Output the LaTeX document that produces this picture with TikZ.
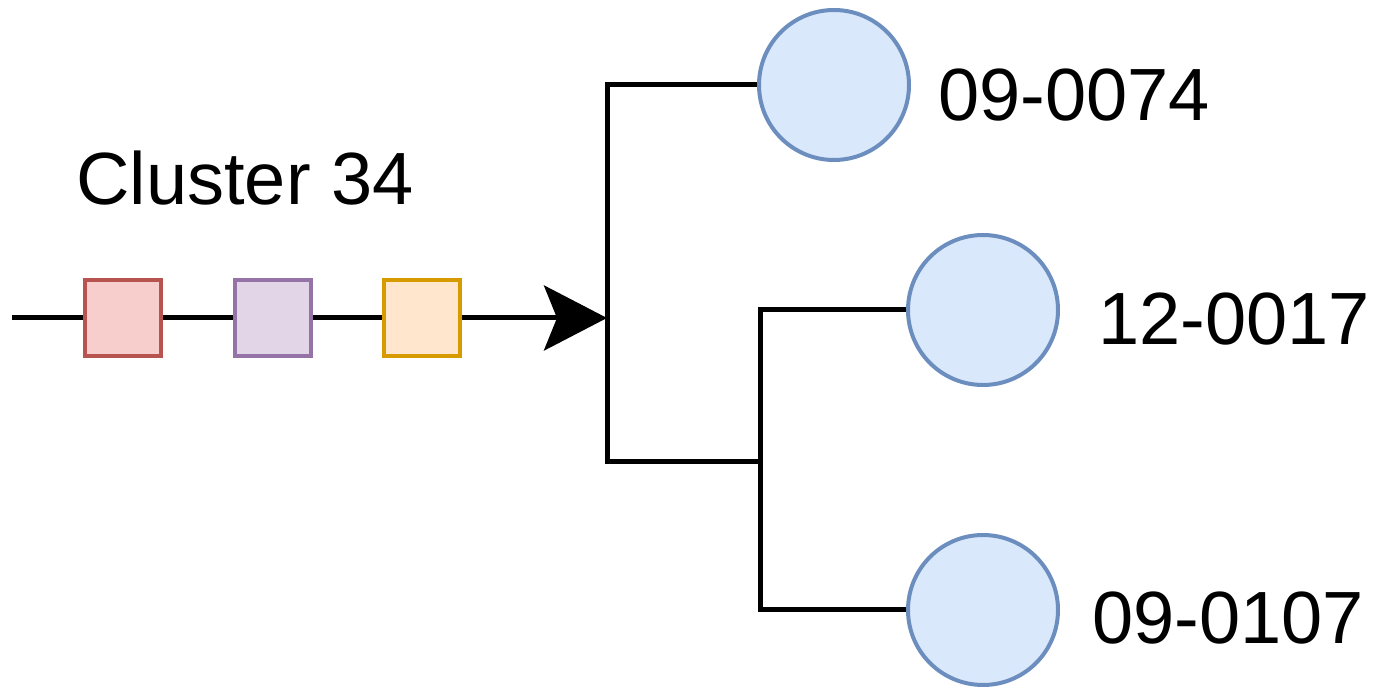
\documentclass[tikz,border=0pt]{standalone}
\usepackage{fontspec}
\setmainfont{Liberation Sans}
\usetikzlibrary{arrows.meta,positioning}

\definecolor{redfill}{HTML}{F8CECC}
\definecolor{redline}{HTML}{B85450}
\definecolor{purplefill}{HTML}{E1D5E7}
\definecolor{purpleline}{HTML}{9673A6}
\definecolor{orangefill}{HTML}{FFE6CC}
\definecolor{orangeline}{HTML}{D79B00}
\definecolor{samplefill}{HTML}{DAE8FC}
\definecolor{sampleline}{HTML}{6C8EBF}

\begin{document}
\begin{tikzpicture}[
  x=0.5pt, y=-0.5pt,
  every node/.style={font=\fontsize{37}{44}\selectfont},
  marker/.style={draw,line width=2pt,minimum size=38pt,inner sep=0pt},
  sample/.style={circle,draw=sampleline,fill=samplefill,line width=2pt,minimum size=75pt,inner sep=0pt},
  link/.style={line width=2.5pt},
  into/.style={link,-{Stealth[length=31.5pt,width=32.5pt,inset=6.5pt]}},
  label/.style={anchor=west,inner sep=0pt}]

  \useasboundingbox (0,0) rectangle (1382,694);

  % Position the markers along the cluster line
  \coordinate (start) at (12,318);
  \node[marker,draw=redline,fill=redfill] (m1) at (123,318) {};
  \node[marker,draw=purpleline,fill=purplefill] (m2) at (273,318) {};
  \node[marker,draw=orangeline,fill=orangefill] (m3) at (422,318) {};
  \node[inner sep=0pt] (cluster) at (245,178) {Cluster 34};

  % Position the samples of the tree
  \coordinate (fork) at (607,318);
  \coordinate (sub) at (760,462);
  \node[sample] (s1) at (834,85) {};
  \node[sample] (s2) at (983,310) {};
  \node[sample] (s3) at (983,610) {};
  \node[label] (l1) at (938,95) {09-0074};
  \node[label] (l2) at (1098,319) {12-0017};
  \node[label] (l3) at (1092,618) {09-0107};

  % Draw the line, the arrow and the branches
  \draw[link] (start) -- (m1) -- (m2) -- (m3);
  \draw[into] (m3) -- (fork);
  \draw[link] (s1) -| (fork) |- (sub);
  \draw[link] (s2) -| (sub) |- (s3);
\end{tikzpicture}
\end{document}
